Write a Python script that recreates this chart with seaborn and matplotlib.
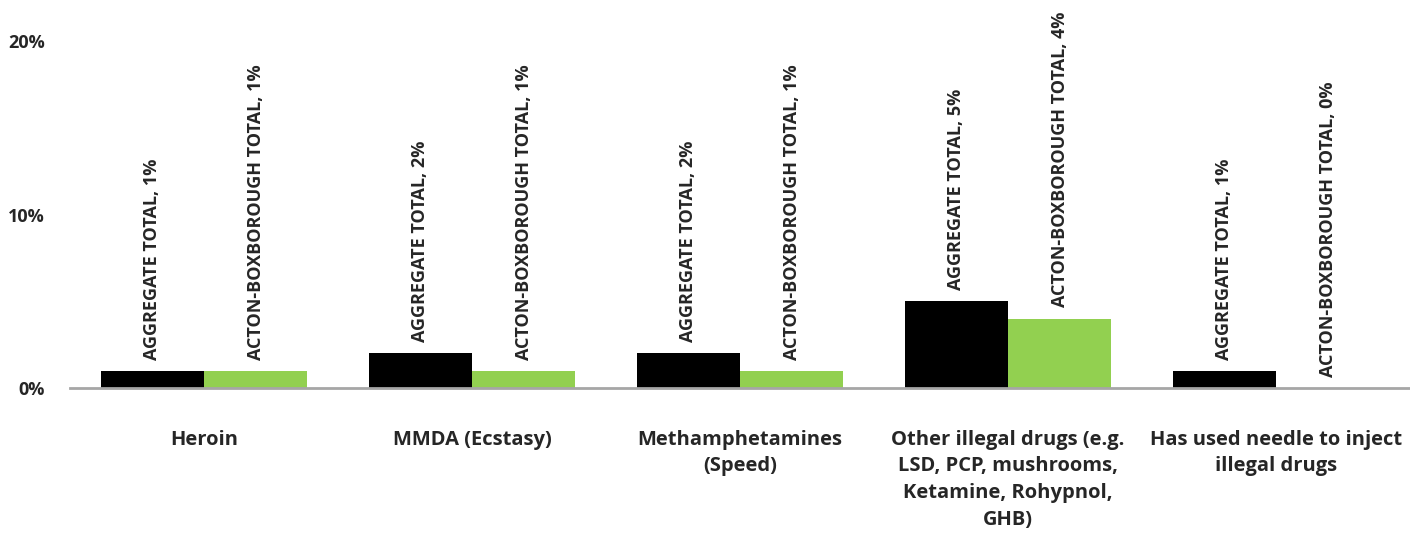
import matplotlib
matplotlib.use("Agg")
import matplotlib.pyplot as plt
import seaborn as sns
import pandas as pd
from matplotlib.ticker import FixedLocator, PercentFormatter

categories = [
    "Heroin",
    "MMDA (Ecstasy)",
    "Methamphetamines\n(Speed)",
    "Other illegal drugs (e.g.\nLSD, PCP, mushrooms,\nKetamine, Rohypnol,\nGHB)",
    "Has used needle to inject\nillegal drugs",
]
series_names = ["AGGREGATE TOTAL", "ACTON-BOXBOROUGH TOTAL"]
aggregate = [1, 2, 2, 5, 1]
acton = [1, 1, 1, 4, 0]
colors = ["#000000", "#92D050"]

sns.set_theme(style="white")
plt.rcParams["font.family"] = ["Open Sans", "DejaVu Sans"]

rows = []
for c, a, b in zip(categories, aggregate, acton):
    rows.append({"cat": c, "series": series_names[0], "val": a})
    rows.append({"cat": c, "series": series_names[1], "val": b})
df = pd.DataFrame(rows)

fig = plt.figure(figsize=(14.1, 5.36), dpi=100)
ax = fig.add_axes([70 / 1410, 148 / 536, 1340 / 1410, 347 / 536])
sns.barplot(data=df, x="cat", y="val", hue="series", hue_order=series_names,
            palette=colors, width=0.77, saturation=1, ax=ax, legend=False,
            linewidth=0)

ax.set_ylim(0, 20)
ax.set_xlim(-0.5, len(categories) - 0.5)
ax.yaxis.set_major_locator(FixedLocator([0, 10, 20]))
ax.yaxis.set_major_formatter(PercentFormatter(decimals=0))
ax.set_xlabel("")
ax.set_ylabel("")
for s in ["left", "top", "right"]:
    ax.spines[s].set_visible(False)
ax.spines["bottom"].set_color("#A6A6A6")
ax.spines["bottom"].set_linewidth(2)

ax.tick_params(axis="y", length=0, pad=18, labelsize=13)
for t in ax.get_yticklabels():
    t.set_fontweight("bold")
ax.tick_params(axis="x", which="major", length=0, pad=30, labelsize=14.5)
for t in ax.get_xticklabels():
    t.set_fontweight("bold")
    t.set_linespacing(1.45)
ax.xaxis.set_minor_locator(FixedLocator([i - 0.5 for i in range(len(categories) + 1)]))
ax.tick_params(axis="x", which="minor", length=6, width=2, color="#A6A6A6", direction="out")

for cont, name, vals in zip(ax.containers, series_names, [aggregate, acton]):
    labels = [f"{name}, {v}%" for v in vals]
    ax.bar_label(cont, labels=labels, rotation=90, padding=8, fontsize=13,
                 fontweight="bold", clip_on=False)

fig.savefig("out.png", dpi=100)
